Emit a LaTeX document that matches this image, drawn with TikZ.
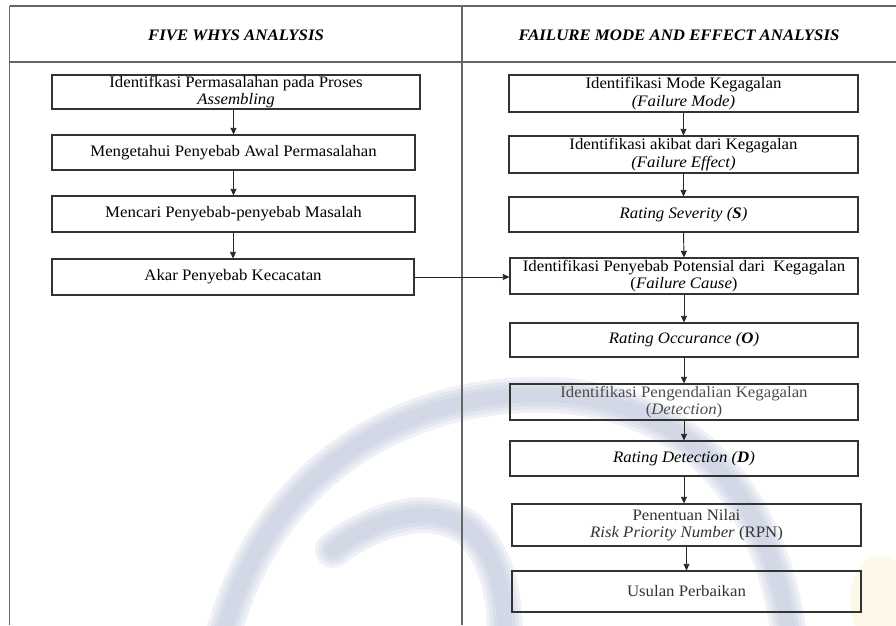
\documentclass[tikz,border=0pt]{standalone}
\usepackage{fontspec}
\setmainfont{Liberation Serif}[FakeStretch=1.05]
\usetikzlibrary{arrows.meta}
\definecolor{wm}{RGB}{184,193,216}
\definecolor{wmy}{RGB}{250,235,190}
\begin{document}
\begin{tikzpicture}[x=0.75pt,y=-0.75pt,
  sz/.style 2 args={minimum width={#1*0.75pt}, minimum height={#2*0.75pt}},
  box/.style={draw=black!80, line width=0.8pt, align=center, inner sep=0pt,
    font=\fontsize{12}{13}\selectfont},
  arr/.style={-{Triangle[length=5pt,width=4.5pt]}, line width=0.7pt, draw=black!85},
  grid/.style={draw=black!60, line width=1.1pt},
  hdr/.style={font=\fontsize{12}{14}\selectfont\bfseries\itshape},
  wmline/.style={draw=wm, line cap=round, opacity=0.22}]
\useasboundingbox (0,0) rectangle (896,625);
% faint watermark in the background
\begin{scope}
  \foreach \w in {36,29,22,15} {
    \draw[wmline, line width=\w*0.75pt]
      (222,640) .. controls (262,480) and (390,400) .. (525,395)
      .. controls (655,390) and (765,460) .. (790,640);
    \draw[wmline, line width=\w*0.75pt]
      (333,550) .. controls (372,520) and (430,500) .. (470,530)
      .. controls (500,560) and (505,600) .. (505,640);
  }
  \fill[wmy, opacity=0.35] (880,600) ellipse [x radius=30, y radius=45];
\end{scope}
% table grid
\draw[grid] (9.5,6) -- (896,6);
\draw[grid] (9.5,62) -- (896,62);
\draw[grid] (9.5,6) -- (9.5,625);
\draw[grid] (462,6) -- (462,625);
\node[hdr] (h1) at (236,35) {FIVE WHYS ANALYSIS};
\node[hdr] (h2) at (679,35) {FAILURE MODE AND EFFECT ANALYSIS};
% five whys column
\node[box, sz={368}{34}] (L1) at (236,92) {Identifkasi Permasalahan pada Proses\\\textit{Assembling}};
\node[box, sz={363}{35}] (L2) at (233.5,152.5) {Mengetahui Penyebab Awal Permasalahan};
\node[box, sz={363}{36}] (L3) at (233.5,214) {Mencari Penyebab-penyebab Masalah};
\node[box, sz={362}{36}] (L4) at (233,277) {Akar Penyebab Kecacatan};
% fmea column
\node[box, sz={349}{37}] (R1) at (683.5,93.5) {Identifikasi Mode Kegagalan\\\textit{(Failure Mode)}};
\node[box, sz={349}{37}] (R2) at (683.5,154.5) {Identifikasi akibat dari Kegagalan\\\textit{(Failure Effect)}};
\node[box, sz={349}{35}] (R3) at (683.5,214.5) {\textit{Rating Severity (\textbf{S})}};
\node[box, sz={348}{36}] (R4) at (684,276) {Identifikasi Penyebab Potensial dari~ Kegagalan\\(\textit{Failure Cause})};
\node[box, sz={348}{34}] (R5) at (684,340) {\textit{Rating Occurance (\textbf{O})}};
\node[box, sz={348}{36}, text=black!70] (R6) at (684,402) {Identifikasi Pengendalian Kegagalan\\(\textit{Detection})};
\node[box, sz={348}{35}] (R7) at (684,458.5) {\textit{Rating Detection (\textbf{D})}};
\node[box, sz={349}{42}, text=black!80] (R8) at (686.5,525) {Penentuan Nilai\\\textit{Risk Priority Number} (RPN)};
\node[box, sz={349}{41}, text=black!80] (R9) at (686.5,591.5) {Usulan Perbaikan};
% connectors
\draw[arr] (L2.north |- L1.south) -- (L2.north);
\draw[arr] (L3.north |- L2.south) -- (L3.north);
\draw[arr] (L4.north |- L3.south) -- (L4.north);
\draw[arr] (L4.east) -- (L4.east -| R4.west);
\draw[arr] (R1.south) -- (R2.north);
\draw[arr] (R2.south) -- (R3.north);
\draw[arr] (R3.south) -- (R4.north);
\draw[arr] (R4.south) -- (R5.north);
\draw[arr] (R5.south) -- (R6.north);
\draw[arr] (R6.south) -- (R7.north);
\draw[arr] (R7.south) -- (R7.south |- R8.north);
\draw[arr] (R8.south) -- (R8.south |- R9.north);
\end{tikzpicture}
\end{document}
